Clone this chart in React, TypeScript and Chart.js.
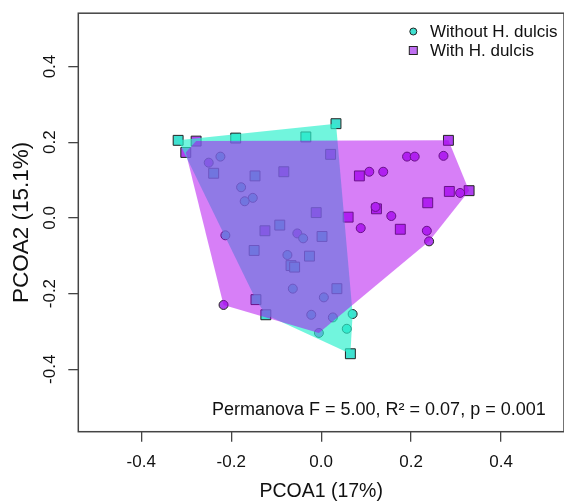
import React, { useEffect, useRef } from 'react';
import { Chart, registerables } from 'chart.js';

Chart.register(...registerables);

// ---- data ----
const xTicks = [-0.4, -0.2, 0, 0.2, 0.4];
const yTicks = [-0.4, -0.2, 0, 0.2, 0.4];
const xRange = [-0.54, 0.54];
const yRange = [-0.565, 0.541];

const xTitle = 'PCOA1 (17%)';
const yTitle = 'PCOA2 (15.1%)';
const legendLabels = ['Without H. dulcis', 'With H. dulcis'];
const annotation = 'Permanova F = 5.00, R² = 0.07, p = 0.001';

const withoutCircles: [number, number][] = [
  [-0.224, 0.162], [-0.178, 0.081], [-0.152, 0.053], [-0.17, 0.044], [-0.213, -0.046],
  [-0.04, -0.054], [-0.075, -0.098], [-0.063, -0.187], [0.006, -0.21], [-0.022, -0.256],
  [0.026, -0.263], [0.07, -0.254], [0.057, -0.293],
];
const withoutSquares: [number, number][] = [
  [-0.318, 0.205], [-0.19, 0.211], [-0.034, 0.214], [0.033, 0.249], [-0.239, 0.118],
  [-0.147, 0.111], [-0.092, -0.019], [0.002, -0.049], [-0.149, -0.086], [-0.026, -0.101],
  [-0.067, -0.126], [-0.059, -0.13], [0.035, -0.187], [-0.145, -0.216], [-0.123, -0.256],
  [0.065, -0.359],
];
const withCircles: [number, number][] = [
  [-0.25, 0.146], [-0.053, -0.041], [-0.217, -0.23], [-0.005, -0.304], [0.191, 0.162],
  [0.208, 0.162], [0.272, 0.164], [0.107, 0.122], [0.138, 0.122], [0.309, 0.066],
  [0.121, 0.029], [0.156, 0.005], [0.088, -0.027], [0.235, -0.034], [0.24, -0.062],
];
const withSquares: [number, number][] = [
  [-0.278, 0.203], [-0.301, 0.173], [-0.083, 0.122], [0.021, 0.168], [-0.011, 0.014],
  [0.06, 0.002], [-0.125, -0.034], [0.283, 0.205], [0.085, 0.111], [0.285, 0.07],
  [0.329, 0.072], [0.237, 0.04], [0.123, 0.024], [0.176, -0.03],
];

// ---- styles ----
const FONT = "'Liberation Sans', Arial, Helvetica, sans-serif";
const CYAN_PT = '#40E0D0';
const PURPLE_PT = '#B040F0';
const CYAN_HULL = 'rgba(45,240,205,0.68)';
const PURPLE_HULL = 'rgba(175,0,240,0.5)';
const AXIS = '#444';

function toXY(pts: [number, number][]) {
  return pts.map(([x, y]) => ({ x, y }));
}

function convexHull(pts: [number, number][]) {
  const p = [...pts].sort((a, b) => a[0] - b[0] || a[1] - b[1]);
  const cross = (o: number[], a: number[], b: number[]) =>
    (a[0] - o[0]) * (b[1] - o[1]) - (a[1] - o[1]) * (b[0] - o[0]);
  const lower: [number, number][] = [];
  for (const q of p) {
    while (lower.length >= 2 && cross(lower[lower.length - 2], lower[lower.length - 1], q) <= 0) lower.pop();
    lower.push(q);
  }
  const upper: [number, number][] = [];
  for (let i = p.length - 1; i >= 0; i--) {
    const q = p[i];
    while (upper.length >= 2 && cross(upper[upper.length - 2], upper[upper.length - 1], q) <= 0) upper.pop();
    upper.push(q);
  }
  upper.pop();
  lower.pop();
  const h = lower.concat(upper);
  h.push(h[0]);
  return toXY(h);
}

const overlayPlugin = {
  id: 'overlay',
  afterDraw(chart: any) {
    const ctx = chart.ctx;
    const a = chart.chartArea;
    ctx.save();
    // box
    ctx.strokeStyle = AXIS;
    ctx.lineWidth = 1.5;
    ctx.strokeRect(a.left, a.top, a.right - a.left, a.bottom - a.top);
    // legend
    ctx.lineWidth = 1;
    ctx.strokeStyle = '#222';
    ctx.fillStyle = CYAN_PT;
    ctx.beginPath();
    ctx.arc(413.3, 31.5, 3.5, 0, Math.PI * 2);
    ctx.fill();
    ctx.stroke();
    ctx.fillStyle = '#C070F2';
    ctx.fillRect(409.3, 46.5, 8, 8);
    ctx.strokeRect(409.3, 46.5, 8, 8);
    ctx.fillStyle = '#111';
    ctx.font = `17px ${FONT}`;
    ctx.textAlign = 'left';
    ctx.textBaseline = 'middle';
    ctx.fillText(legendLabels[0], 430, 32.5);
    ctx.fillText(legendLabels[1], 430, 51.5);
    // annotation
    ctx.font = `18px ${FONT}`;
    ctx.textAlign = 'right';
    ctx.fillText(annotation, 545.7, 410);
    ctx.restore();
  },
};

export default function App() {
  const ref = useRef<HTMLCanvasElement>(null);
  useEffect(() => {
    if (!ref.current) return;
    const ptBase = { borderColor: '#222', borderWidth: 1, order: 3 };
    const chart = new Chart(ref.current, {
      type: 'scatter',
      data: {
        datasets: [
          { ...ptBase, label: 'without-c', data: toXY(withoutCircles), pointStyle: 'circle', pointRadius: 4.5, backgroundColor: CYAN_PT },
          { ...ptBase, label: 'without-s', data: toXY(withoutSquares), pointStyle: 'rect', pointRadius: 7, backgroundColor: CYAN_PT },
          { ...ptBase, label: 'with-c', data: toXY(withCircles), pointStyle: 'circle', pointRadius: 4.5, backgroundColor: PURPLE_PT },
          { ...ptBase, label: 'with-s', data: toXY(withSquares), pointStyle: 'rect', pointRadius: 7, backgroundColor: PURPLE_PT },
          {
            label: 'hull-without', data: convexHull([...withoutCircles, ...withoutSquares]),
            showLine: true, fill: 'shape', backgroundColor: CYAN_HULL, borderColor: 'transparent',
            borderWidth: 1, pointRadius: 0, order: 2, tension: 0,
          },
          {
            label: 'hull-with', data: convexHull([...withCircles, ...withSquares]),
            showLine: true, fill: 'shape', backgroundColor: PURPLE_HULL, borderColor: 'transparent',
            borderWidth: 1, pointRadius: 0, order: 1, tension: 0,
          },
        ] as any,
      },
      options: {
        animation: false,
        responsive: false,
        events: [],
        layout: { padding: { top: 8, right: 4, left: 0, bottom: 0 } },
        plugins: { legend: { display: false }, tooltip: { enabled: false } },
        scales: {
          x: {
            type: 'linear',
            position: 'bottom',
            min: xRange[0],
            max: xRange[1],
            afterFit: (s: any) => { s.height = 71.3; },
            afterBuildTicks: (s: any) => { s.ticks = xTicks.map((v) => ({ value: v })); },
            ticks: {
              font: { size: 17, family: FONT },
              color: '#111',
              padding: 10,
              maxRotation: 0,
              minRotation: 0,
              callback: (v: any) => Number(v).toFixed(1),
            },
            grid: { drawOnChartArea: false, drawTicks: true, tickLength: 10, color: AXIS, lineWidth: 1.3 },
            border: { display: false },
            title: { display: true, text: xTitle, font: { size: 19.5, family: FONT }, color: '#111', padding: { top: 0, bottom: 0 } },
          },
          y: {
            type: 'linear',
            position: 'left',
            min: yRange[0],
            max: yRange[1],
            afterFit: (s: any) => { s.width = 78.3; },
            afterBuildTicks: (s: any) => { s.ticks = yTicks.map((v) => ({ value: v })); },
            ticks: {
              font: { size: 17, family: FONT },
              color: '#111',
              padding: 3,
              minRotation: 90,
              maxRotation: 90,
              crossAlign: 'center',
              callback: (v: any) => Number(v).toFixed(1),
            },
            grid: { drawOnChartArea: false, drawTicks: true, tickLength: 10, color: AXIS, lineWidth: 1.3 },
            border: { display: false },
            title: { display: true, text: yTitle, font: { size: 22.5, family: FONT }, color: '#111', padding: { top: 8, bottom: 0 } },
          },
        },
      } as any,
      plugins: [overlayPlugin],
    });
    return () => chart.destroy();
  }, []);
  return (
    <div style={{ position: 'fixed', left: 0, top: 0, width: 564, height: 503, overflow: 'hidden', background: '#fff' }}>
      <canvas ref={ref} width={572} height={503} style={{ display: 'block' }} />
    </div>
  );
}
